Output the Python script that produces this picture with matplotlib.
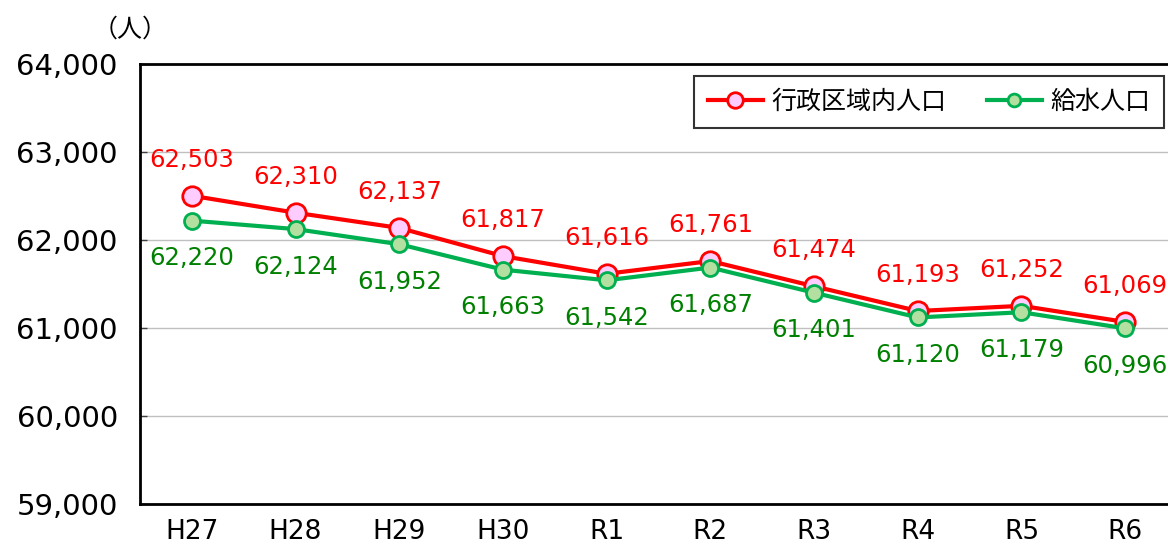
import matplotlib
matplotlib.use("Agg")
import matplotlib.pyplot as plt
from matplotlib.ticker import FuncFormatter

plt.rcParams['font.family'] = ['DejaVu Sans', 'Noto Sans CJK JP']

categories = ["H27", "H28", "H29", "H30", "R1", "R2", "R3", "R4", "R5", "R6"]
admin_pop = [62503, 62310, 62137, 61817, 61616, 61761, 61474, 61193, 61252, 61069]
supply_pop = [62220, 62124, 61952, 61663, 61542, 61687, 61401, 61120, 61179, 60996]
series_names = ["行政区域内人口", "給水人口"]
y_ticks = [59000, 60000, 61000, 62000, 63000, 64000]

W, H = 1168, 549
fig = plt.figure(figsize=(W / 100, H / 100), dpi=100)
ax = fig.add_axes([140 / W, 1 - 504 / H, 1037 / W, 440 / H])

x = list(range(len(categories)))
ax.plot(x, admin_pop, color="#FF0000", lw=3, marker="o", ms=14,
        mfc="#FFCCFF", mec="#FF0000", mew=2, label=series_names[0], zorder=4)
ax.plot(x, supply_pop, color="#00B050", lw=3, marker="o", ms=11.5,
        mfc="#B3E0A0", mec="#00B050", mew=2, label=series_names[1], zorder=5)

for xi, v in zip(x, admin_pop):
    ax.annotate(f"{v:,}", (xi, v), xytext=(0, 26), textcoords="offset points",
                ha="center", va="center", color="#FF0000", fontsize=17.5,
                annotation_clip=False)
for xi, v in zip(x, supply_pop):
    ax.annotate(f"{v:,}", (xi, v), xytext=(0, -27), textcoords="offset points",
                ha="center", va="center", color="#008000", fontsize=17.5,
                annotation_clip=False)

ax.set_xlim(-0.5, 9.5)
ax.set_ylim(59000, 64000)
ax.set_yticks(y_ticks)
ax.yaxis.set_major_formatter(FuncFormatter(lambda v, p: f"{int(v):,}"))
ax.set_xticks(x)
ax.set_xticklabels(categories)
ax.grid(axis="y", color="#C0C0C0", lw=1)
ax.set_axisbelow(True)
ax.tick_params(axis="y", direction="in", length=5, width=1, colors="#404040",
               labelcolor="black", labelsize=21, pad=16)
ax.tick_params(axis="x", length=0, labelsize=19, pad=11)
for s in ax.spines.values():
    s.set_color("black")
    s.set_linewidth(2)

leg = ax.legend(loc="upper right", bbox_to_anchor=(1164 / W, 1 - 76 / H),
                bbox_transform=fig.transFigure, ncol=2, fontsize=18,
                frameon=True, fancybox=False, edgecolor="black",
                handlelength=2.2, columnspacing=1.6, borderpad=0.55,
                handletextpad=0.35, borderaxespad=0, markerscale=0.8)
leg.get_frame().set_linewidth(1.5)

fig.text(130 / W, 1 - 30 / H, "（人）", ha="center", va="center", fontsize=18)

fig.savefig("out.png", dpi=100)
